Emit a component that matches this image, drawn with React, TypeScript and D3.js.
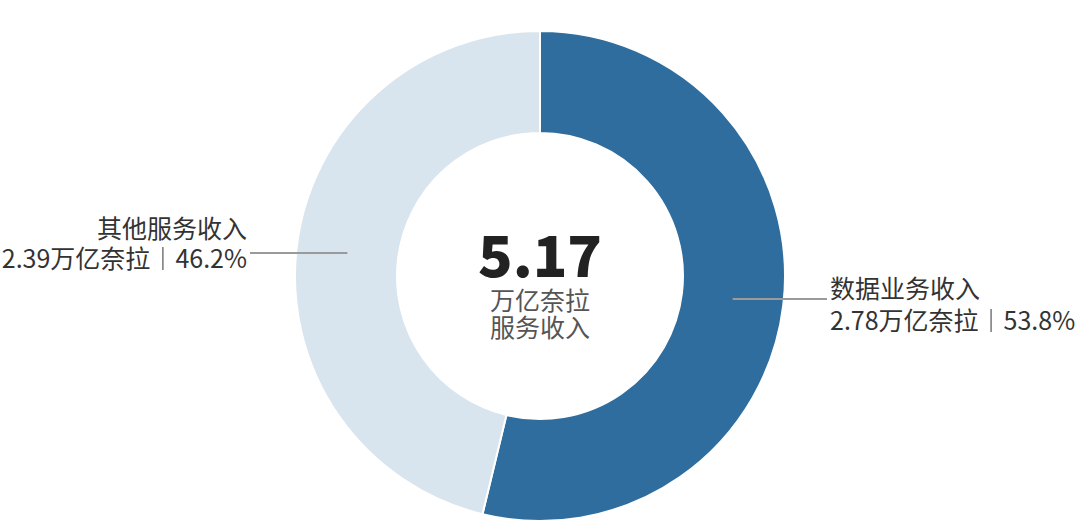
import React, { useLayoutEffect, useRef, useState } from "react";
import * as d3 from "d3";

// service revenue split (trillion naira)
const categories = ["数据业务收入", "其他服务收入"];
const values = [2.78, 2.39];
const shares = ["53.8%", "46.2%"];
const unit = "万亿奈拉";
const totalLabel = "5.17";
const centerLines = ["万亿奈拉", "服务收入"];
const colors = ["#2e6d9e", "#d8e4ee"];

const W = 1080;
const H = 530;
const cx = 540;
const cy = 276;
const outerR = 245;
const innerR = 143;
const font = "'Noto Sans CJK SC', 'Noto Sans', sans-serif";
const SEP = "｜";

// label offsets per slice: where the leader ends and the two text baselines
const labelLayout = [
  { end: 827, dy1: -1, dy2: 31 },
  { end: 250, dy1: -15, dy2: 15 },
];

// value line; the separator glyph is hidden and redrawn as a plain gray stroke
const ValueLine: React.FC<{
  x: number;
  y: number;
  anchor: string;
  text: string;
}> = ({ x, y, anchor, text }) => {
  const ref = useRef<SVGTextElement | null>(null);
  const [barX, setBarX] = useState<number | null>(null);

  useLayoutEffect(() => {
    const el = ref.current;
    if (!el) return;
    const idx = text.indexOf(SEP);
    const box = el.getExtentOfChar(idx);
    setBarX(box.x + box.width / 2);
  }, [text, x, y]);

  const [a, b] = text.split(SEP);
  return (
    <g>
      <text ref={ref} x={x} y={y} textAnchor={anchor} fontSize={25} fill="#333">
        {a}
        <tspan fill="none">{SEP}</tspan>
        {b}
      </text>
      {barX !== null && (
        <line
          x1={barX}
          x2={barX}
          y1={y - 21}
          y2={y + 2}
          stroke="#777"
          strokeWidth={1.5}
        />
      )}
    </g>
  );
};

const App: React.FC = () => {
  const pie = d3
    .pie<number>()
    .sort(null)
    .value((d) => d);
  const arcs = pie(values);

  const arc = d3
    .arc<d3.PieArcDatum<number>>()
    .innerRadius(innerR)
    .outerRadius(outerR);

  return (
    <svg
      width={W}
      height={H}
      style={{ position: "absolute", left: 0, top: 0, background: "#fff" }}
      fontFamily={font}
    >
      <g transform={`translate(${cx},${cy})`}>
        {arcs.map((a, i) => (
          <path
            key={i}
            d={arc(a) as string}
            fill={colors[i]}
            stroke="#fff"
            strokeWidth={2}
          />
        ))}
        {arcs.map((a, i) => {
          const [x, y] = arc.centroid(a);
          const lay = labelLayout[i];
          const right = x > 0;
          const ex = lay.end - cx;
          const tx = right ? ex + 3 : ex - 3;
          const anchor = right ? "start" : "end";
          return (
            <g key={"l" + i}>
              <line
                x1={x}
                y1={y}
                x2={ex}
                y2={y}
                stroke="#9a9a9a"
                strokeWidth={2}
              />
              <text
                x={tx}
                y={y + lay.dy1}
                textAnchor={anchor}
                fontSize={25}
                fill="#333"
              >
                {categories[i]}
              </text>
              <ValueLine
                x={tx}
                y={y + lay.dy2}
                anchor={anchor}
                text={`${values[i].toFixed(2)}${unit}${SEP}${shares[i]}`}
              />
            </g>
          );
        })}
        <text
          x={0}
          y={1}
          textAnchor="middle"
          fontSize={57}
          fontWeight={900}
          fill="#222"
        >
          {totalLabel}
        </text>
        {centerLines.map((t, i) => (
          <text
            key={t}
            x={0}
            y={34 + i * 27}
            textAnchor="middle"
            fontSize={25}
            fill="#555"
          >
            {t}
          </text>
        ))}
      </g>
    </svg>
  );
};

export default App;
